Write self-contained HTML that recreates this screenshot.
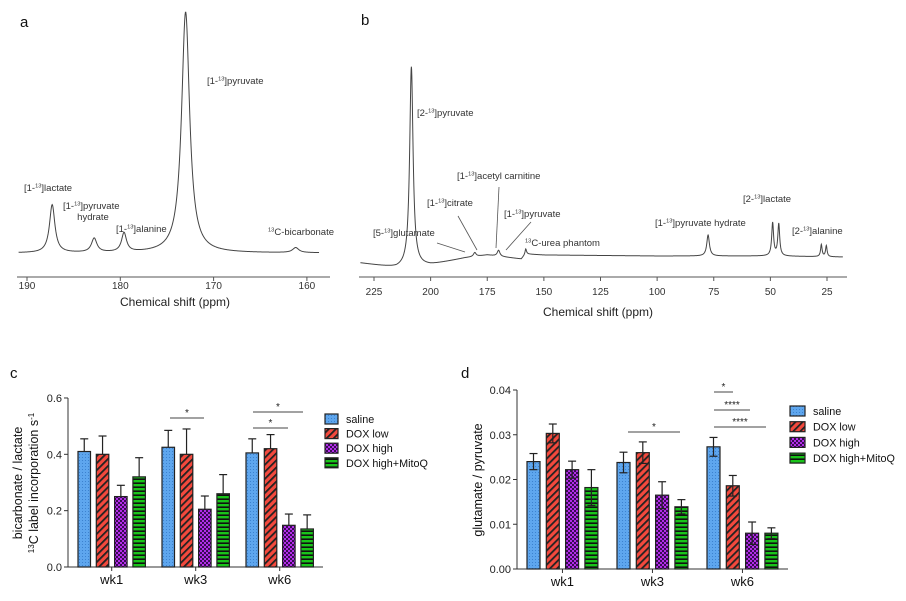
<!DOCTYPE html>
<html><head><meta charset="utf-8"><style>
body{margin:0;background:#fff}
svg text{font-family:"Liberation Sans",sans-serif}
</style></head><body>
<svg id="fig" width="906" height="596" viewBox="0 0 906 596" xmlns="http://www.w3.org/2000/svg">
<defs>
<pattern id="pDots" width="3" height="3" patternUnits="userSpaceOnUse"><rect width="3" height="3" fill="#5ea6ee"/><rect x="1" y="1" width="1" height="1" fill="#3c82cf"/></pattern>
<pattern id="pDiag" width="5" height="5" patternUnits="userSpaceOnUse" patternTransform="rotate(45)"><rect width="5" height="5" fill="#f4493d"/><rect width="1.8" height="5" fill="#222"/></pattern>
<pattern id="pCheck" width="4" height="4" patternUnits="userSpaceOnUse"><rect width="4" height="4" fill="#b22ee8"/><rect width="2" height="2" fill="#3a0a55"/><rect x="2" y="2" width="2" height="2" fill="#3a0a55"/></pattern>
<pattern id="pH" width="4" height="4" patternUnits="userSpaceOnUse"><rect width="4" height="4" fill="#19c41a"/><rect y="2.4" width="4" height="1.6" fill="#111"/></pattern>
</defs>
<g id="pa"></g>
<g id="pb"></g>
<g id="pc"></g>
<g id="pd"></g>
</svg>
<script>
// ---------- data ----------
const aTicks = [190, 180, 170, 160];
const aPeakPpm = [187.3, 182.8, 179.6, 173.0, 161.2];
const aPeakHeight = [48, 14, 19, 241, 5];
const aPeakWidth = [0.35, 0.35, 0.32, 0.52, 0.4];
const bTicks = [225, 200, 175, 150, 125, 100, 75, 50, 25];
const bPeakPpm = [208.5, 180.5, 170.0, 158.0, 77.5, 49.0, 46.3, 27.5, 25.3];
const bPeakHeight = [200, 4, 6, 5, 21, 33, 32, 12, 11];
const bPeakWidth = [0.9, 0.7, 0.7, 0.4, 0.7, 0.5, 0.5, 0.4, 0.4];
const bBasePpm = [231, 215, 200, 185, 175, 160, 158, 150, 100, 50, 18];
const bBaseY = [263, 268, 265, 258, 255, 259, 254, 255, 256, 256, 257];
const groups = ["wk1", "wk3", "wk6"];
const seriesNames = ["saline", "DOX low", "DOX high", "DOX high+MitoQ"];
const cValues = [[0.41,0.40,0.25,0.32],[0.425,0.40,0.205,0.26],[0.405,0.42,0.148,0.135]];
const cErrors = [[0.045,0.065,0.04,0.068],[0.06,0.09,0.047,0.068],[0.05,0.05,0.04,0.05]];
const cTicks = ["0.0","0.2","0.4","0.6"];
const dValues = [[0.024,0.0303,0.0222,0.0182],[0.0238,0.026,0.0165,0.0139],[0.0273,0.0186,0.008,0.008]];
const dErrors = [[0.0018,0.0021,0.0019,0.004],[0.0023,0.0024,0.003,0.0016],[0.0021,0.0023,0.0025,0.0012]];
const dTicks = ["0.00","0.01","0.02","0.03","0.04"];

const NS = "http://www.w3.org/2000/svg";
function mk(parent, tag, attrs, text){const e=document.createElementNS(NS,tag);for(const k in attrs)e.setAttribute(k,attrs[k]);if(text!==undefined)e.textContent=text;parent.appendChild(e);return e;}
function lor(p, ppm, h, w){let s=0;for(let i=0;i<ppm.length;i++){const d=(p-ppm[i])/w[i];s+=h[i]/(1+d*d);}return s;}
function label13(parent, x, y, pre, post, size, name){
  const t=mk(parent,'text',{x:x,y:y,'font-size':size,fill:'#333'});
  
  
  if(pre) mk(t,'tspan',{},pre);
  mk(t,'tspan',{'font-size':size*0.6,dy:-size*0.35},'13');
  mk(t,'tspan',{dy:size*0.35},post);
  return t;
}

// ---------- panel a ----------
(function(){
  const g=document.getElementById('pa');
  const X=p=>27+(190-p)*9.33;
  mk(g,'text',{x:20,y:27,'font-size':15,fill:'#111'},'a');
  let d='';
  for(let p=190.9;p>=158.7;p-=0.04){const y=253-lor(p,aPeakPpm,aPeakHeight,aPeakWidth);d+=(d?'L':'M')+X(p).toFixed(2)+','+y.toFixed(2);}
  const path=mk(g,'path',{d:d,fill:'none',stroke:'#444','stroke-width':1});
  
  
  mk(g,'line',{x1:17,y1:277,x2:330,y2:277,stroke:'#555','stroke-width':1});
  aTicks.forEach(t=>{mk(g,'line',{x1:X(t),y1:277,x2:X(t),y2:281,stroke:'#555'});
    const tl=mk(g,'text',{x:X(t),y:289,'font-size':10,fill:'#333','text-anchor':'middle'},String(t));
    
    });
  mk(g,'text',{x:175,y:306,'font-size':12,fill:'#222','text-anchor':'middle'},'Chemical shift (ppm)');
  label13(g,24,191,'[1-',']lactate',9.5,'label-lactate');
  label13(g,63,209,'[1-',']pyruvate',9.5,'label-pyruvate-hydrate');
  mk(g,'text',{x:93,y:220,'font-size':9.5,fill:'#333','text-anchor':'middle'},'hydrate');
  label13(g,116,232,'[1-',']alanine',9.5,'label-alanine');
  label13(g,207,84,'[1-',']pyruvate',9.5,'label-pyruvate');
  label13(g,268,235,'','C-bicarbonate',9.5,'label-bicarbonate');
})();

// ---------- panel b ----------
(function(){
  const g=document.getElementById('pb');
  const X=p=>374+(225-p)*2.265;
  function base(p){for(let i=0;i<bBasePpm.length-1;i++){if(p<=bBasePpm[i]&&p>=bBasePpm[i+1]){const f=(bBasePpm[i]-p)/(bBasePpm[i]-bBasePpm[i+1]);return bBaseY[i]+f*(bBaseY[i+1]-bBaseY[i]);}}return p>bBasePpm[0]?bBaseY[0]:bBaseY[bBaseY.length-1];}
  mk(g,'text',{x:361,y:25,'font-size':15,fill:'#111'},'b')
  let d='';
  for(let p=231;p>=18;p-=0.1){const y=base(p)-lor(p,bPeakPpm,bPeakHeight,bPeakWidth);d+=(d?'L':'M')+X(p).toFixed(2)+','+y.toFixed(2);}
  const path=mk(g,'path',{d:d,fill:'none',stroke:'#444','stroke-width':1});
  
  
  mk(g,'line',{x1:359,y1:277,x2:847,y2:277,stroke:'#555'});
  bTicks.forEach(t=>{mk(g,'line',{x1:X(t),y1:277,x2:X(t),y2:281,stroke:'#555'});
    const tl=mk(g,'text',{x:X(t),y:295,'font-size':10,fill:'#333','text-anchor':'middle'},String(t));
    
    });
  mk(g,'text',{x:598,y:316,'font-size':12,fill:'#222','text-anchor':'middle'},'Chemical shift (ppm)');
  label13(g,417,116,'[2-',']pyruvate',9.5,'label-2-pyruvate');
  label13(g,457,179,'[1-',']acetyl carnitine',9.5,'label-acetyl-carnitine');
  label13(g,427,206,'[1-',']citrate',9.5,'label-citrate');
  label13(g,504,217,'[1-',']pyruvate',9.5,'label-1-pyruvate');
  label13(g,373,236,'[5-',']glutamate',9.5,'label-glutamate');
  label13(g,525,246,'','C-urea phantom',9.5,'label-urea');
  label13(g,655,226,'[1-',']pyruvate hydrate',9.5,'label-b-pyruvate-hydrate');
  label13(g,743,202,'[2-',']lactate',9.5,'label-2-lactate');
  label13(g,792,234,'[2-',']alanine',9.5,'label-2-alanine');
  [[437,243,465,252],[458,216,477,250],[499,187,496,248],[531,222,506,250]].forEach(l=>mk(g,'line',{x1:l[0],y1:l[1],x2:l[2],y2:l[3],stroke:'#555','stroke-width':0.8}));
})();

// ---------- bar charts ----------
const fills=['url(#pDots)','url(#pDiag)','url(#pCheck)','url(#pH)'];
function barChart(g,o){
  const Y=v=>o.y0-v*o.k;
  mk(g,'text',{x:o.lx,y:o.ly,'font-size':15,fill:'#111'},o.letter);
  mk(g,'line',{x1:o.ax,y1:o.y0,x2:o.ax,y2:Y(o.ymax),stroke:'#333','stroke-width':1});
  mk(g,'line',{x1:o.ax,y1:o.y0,x2:o.axEnd,y2:o.y0,stroke:'#333','stroke-width':1});
  o.ticks.forEach(t=>{const y=Y(parseFloat(t));mk(g,'line',{x1:o.ax-4,y1:y,x2:o.ax,y2:y,stroke:'#333'});
    const tl=mk(g,'text',{x:o.ax-6,y:y+4,'font-size':11,fill:'#222','text-anchor':'end'},t);
    
    });
  groups.forEach((gn,gi)=>{
    const gx=o.g0+gi*o.gs;
    const center=gx+1.5*o.bs+o.bw/2;
    mk(g,'line',{x1:center,y1:o.y0,x2:center,y2:o.y0+4,stroke:'#333'});
    const tl=mk(g,'text',{x:center,y:o.y0+17,'font-size':13,fill:'#111','text-anchor':'middle'},gn);
    
    
    o.vals[gi].forEach((v,si)=>{
      const x=gx+si*o.bs, e=o.errs[gi][si];
      const r=mk(g,'rect',{x:x,y:Y(v),width:o.bw,height:o.y0-Y(v),fill:fills[si],stroke:'#222','stroke-width':1.2});
      
      
      const cx=x+o.bw/2, lo=o.both?Y(v-e):Y(v);
      mk(g,'line',{x1:cx,y1:lo,x2:cx,y2:Y(v+e),stroke:'#222','stroke-width':1.2});
      mk(g,'line',{x1:cx-4,y1:Y(v+e),x2:cx+4,y2:Y(v+e),stroke:'#222','stroke-width':1.2});
      if(o.both) mk(g,'line',{x1:cx-4,y1:lo,x2:cx+4,y2:lo,stroke:'#222','stroke-width':1.2});
    });
  });
  o.sig.forEach(s=>{mk(g,'line',{x1:s[0],y1:s[2],x2:s[1],y2:s[2],stroke:'#444','stroke-width':1});
    mk(g,'text',{x:(s[0]+s[1])/2,y:s[2]-2,'font-size':10,fill:'#222','text-anchor':'middle'},s[3]);});
  seriesNames.forEach((n,i)=>{const y=o.legY+i*o.legS;
    const r=mk(g,'rect',{x:o.legX,y:y-5,width:o.legW,height:10,fill:fills[i],stroke:'#222','stroke-width':1.2});
    
    
    const t=mk(g,'text',{x:o.legX+o.legW+8,y:y+4,'font-size':10.8,fill:'#111'},n);
    
    });
}
(function(){
  const g=document.getElementById('pc');
  barChart(g,{letter:'c',lx:10,ly:378,ax:68,axEnd:323,y0:567,k:281.7,ymax:0.6,ticks:cTicks,vals:cValues,errs:cErrors,both:false,
    g0:78,gs:84,bs:18.3,bw:12.5,legX:325,legW:13,legY:419,legS:14.6,
    sig:[[170,204,418,'*'],[253,288,428,'*'],[253,303,412,'*']]});
  mk(g,'text',{transform:'translate(22,483) rotate(-90)','font-size':12.5,fill:'#111','text-anchor':'middle'},'bicarbonate / lactate');
  const t2=mk(g,'text',{transform:'translate(38,483) rotate(-90)','font-size':12.5,fill:'#111','text-anchor':'middle'});
  mk(t2,'tspan',{'font-size':8,dy:-4},'13');mk(t2,'tspan',{dy:4},'C label incorporation s');mk(t2,'tspan',{'font-size':8,dy:-4},'-1');
})();
(function(){
  const g=document.getElementById('pd');
  barChart(g,{letter:'d',lx:461,ly:378,ax:517,axEnd:788,y0:569,k:4475,ymax:0.04,ticks:dTicks,vals:dValues,errs:dErrors,both:true,
    g0:527,gs:90,bs:19.3,bw:13,legX:790,legW:15,legY:411,legS:15.7,
    sig:[[628,680,432,'*'],[714,733,392,'*'],[714,750,410,'****'],[714,766,427,'****']]});
  mk(g,'text',{transform:'translate(482,480) rotate(-90)','font-size':12.5,fill:'#111','text-anchor':'middle'},'glutamate / pyruvate');
})();
</script>
</body></html>
